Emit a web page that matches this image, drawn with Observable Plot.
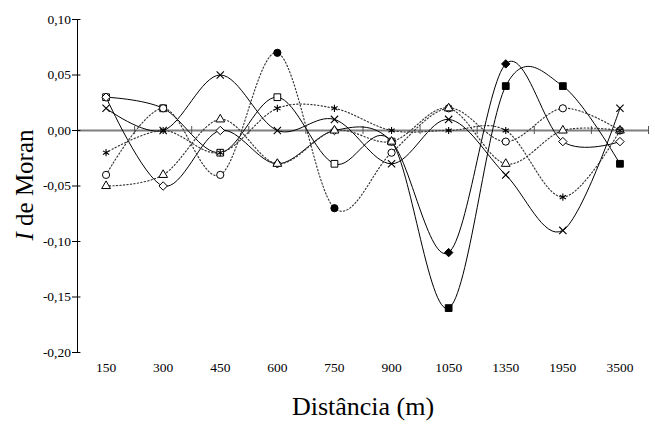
<!DOCTYPE html>
<html>
<head>
<meta charset="utf-8">
<script src="https://cdn.jsdelivr.net/npm/d3@7"></script>
<script src="https://cdn.jsdelivr.net/npm/@observablehq/plot@0.6"></script>
<style>
  body { margin: 0; background: #fff; }
  #chart { width: 655px; height: 426px; }
</style>
</head>
<body>
<div id="chart"></div>
<script>
// Distance classes (m)
const distances = ["150", "300", "450", "600", "750", "900", "1050", "1350", "1950", "3500"];
const yTicks = [-0.2, -0.15, -0.1, -0.05, 0, 0.05, 0.1];

// Solid series
const squareValues   = [0.03, 0.02, -0.02, 0.03, -0.03, -0.01, -0.16, 0.04, 0.04, -0.03];
const squareSig      = [0, 0, 0, 0, 0, 0, 1, 1, 1, 1];
const diamondValues  = [0.03, -0.05, 0.00, -0.03, 0.00, -0.01, -0.11, 0.06, -0.01, -0.01];
const diamondSig     = [0, 0, 0, 0, 0, 0, 1, 1, 0, 0];
const timesValues    = [0.02, 0.00, 0.05, 0.00, 0.01, -0.03, 0.01, -0.04, -0.09, 0.02];
const timesSig       = [0, 0, 0, 0, 0, 0, 0, 0, 0, 0];
// Dotted series
const circleValues   = [-0.04, 0.02, -0.04, 0.07, -0.07, -0.02, 0.02, -0.01, 0.02, 0.00];
const circleSig      = [0, 0, 0, 1, 1, 0, 0, 0, 0, 0];
const triangleValues = [-0.05, -0.04, 0.01, -0.03, 0.00, -0.01, 0.02, -0.03, 0.00, 0.00];
const triangleSig    = [0, 0, 0, 0, 0, 0, 0, 0, 0, 0];
const asteriskValues = [-0.02, 0.00, -0.02, 0.02, 0.02, 0.00, 0.00, 0.00, -0.06, 0.00];
const asteriskSig    = [0, 0, 0, 0, 0, 0, 0, 0, 0, 0];

const series = [
  {name: "square",   values: squareValues,   sig: squareSig,   symbol: "square",   dotted: false, r: 3.8, stroked: false},
  {name: "diamond",  values: diamondValues,  sig: diamondSig,  symbol: "diamond2", dotted: false, r: 3.8, stroked: false},
  {name: "times",    values: timesValues,    sig: timesSig,    symbol: "times",    dotted: false, r: 3.4, stroked: true},
  {name: "circle",   values: circleValues,   sig: circleSig,   symbol: "circle",   dotted: true,  r: 3.6, stroked: false},
  {name: "triangle", values: triangleValues, sig: triangleSig, symbol: "triangle2",dotted: true,  r: 4.2, stroked: false},
  {name: "asterisk", values: asteriskValues, sig: asteriskSig, symbol: "asterisk", dotted: true,  r: 3.4, stroked: true}
];

const rows = series.flatMap(s => s.values.map((v, i) => ({series: s.name, i, v, sig: s.sig[i]})));
const boundaries = distances.map((d, i) => i + 0.5);
const fmt = d => d.toFixed(2).replace(".", ",");

const marks = [
  Plot.ruleY([0], {stroke: "#7f7f7f", strokeWidth: 2}),
  Plot.ruleX(boundaries, {y1: -0.0036, y2: 0.0036, stroke: "#555", strokeWidth: 1}),
  Plot.ruleX([-0.5], {stroke: "#000", strokeWidth: 1}),
  Plot.ruleY(yTicks, {x1: -0.5, x2: -0.44, stroke: "#000", strokeWidth: 1})
];

for (const s of series) {
  const data = rows.filter(d => d.series === s.name);
  marks.push(Plot.line(data, {
    x: "i", y: "v", curve: "cardinal", tension: 0,
    stroke: s.dotted ? "#333" : "#000",
    strokeWidth: s.dotted ? 1.15 : 1,
    strokeDasharray: s.dotted ? "1.3,2.2" : null
  }));
}
for (const s of series) {
  const data = rows.filter(d => d.series === s.name);
  if (s.stroked) {
    marks.push(Plot.dot(data, {x: "i", y: "v", symbol: s.symbol, r: s.r, stroke: "#000", strokeWidth: 1.1, fill: "none"}));
  } else {
    marks.push(Plot.dot(data.filter(d => !d.sig), {x: "i", y: "v", symbol: s.symbol, r: s.r, stroke: "#000", strokeWidth: 1, fill: "#fff"}));
    marks.push(Plot.dot(data.filter(d => d.sig), {x: "i", y: "v", symbol: s.symbol, r: s.r, stroke: "#000", strokeWidth: 1, fill: "#000"}));
  }
}
marks.push(Plot.text(["Distância (m)"], {frameAnchor: "bottom", dy: 62, fontSize: 26, fill: "#000"}));

const plot = Plot.plot({
  width: 655,
  height: 426,
  marginLeft: 77,
  marginRight: 7,
  marginTop: 19,
  marginBottom: 74,
  style: {fontFamily: "'Liberation Serif', 'Times New Roman', serif", fontSize: "13.5px", color: "#000", background: "#fff"},
  x: {
    type: "linear",
    domain: [-0.5, distances.length - 0.5],
    ticks: distances.map((d, i) => i),
    tickFormat: i => distances[i],
    tickSize: 0,
    tickPadding: 10,
    label: null
  },
  y: {
    domain: [-0.2, 0.1],
    ticks: yTicks,
    tickFormat: fmt,
    tickSize: 5,
    tickPadding: 1.5,
    label: null
  },
  marks
});

document.getElementById("chart").appendChild(plot);

// Y-axis title with italic I
const svg = d3.select(plot.tagName.toLowerCase() === "svg" ? plot : plot.querySelector("svg"));
const t = svg.append("text")
  .attr("transform", "translate(33,185) rotate(-90)")
  .attr("text-anchor", "middle")
  .attr("fill", "#000")
  .style("font-family", "'Liberation Serif', 'Times New Roman', serif")
  .style("font-size", "25px");
t.append("tspan").attr("font-style", "italic").text("I");
t.append("tspan").text(" de Moran");
</script>
</body>
</html>
